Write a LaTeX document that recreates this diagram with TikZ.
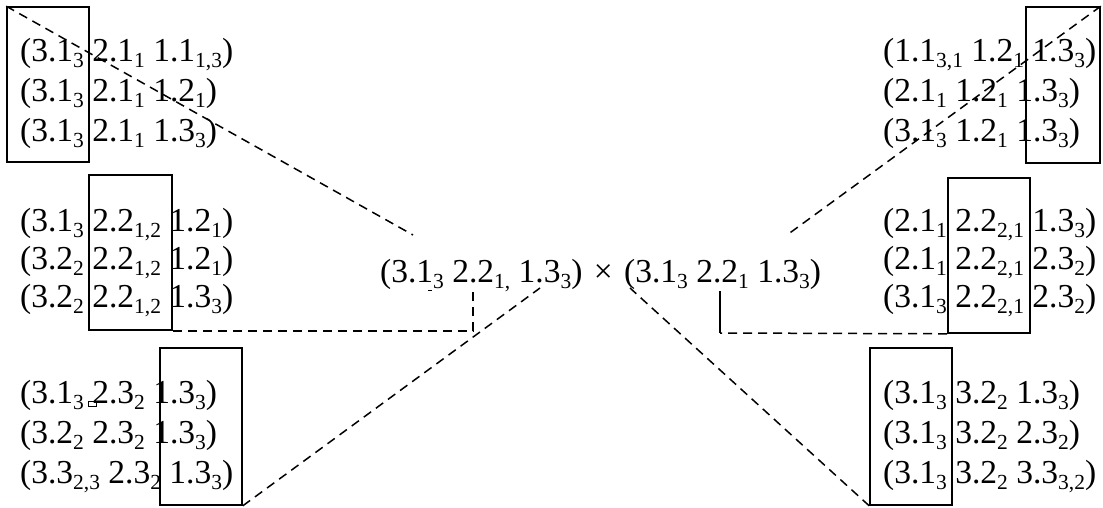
\documentclass[tikz,border=0pt]{standalone}
\usepackage{tikz}
\usepackage{fontspec}
\setmainfont{Liberation Serif}
\newcommand{\ix}[1]{\raisebox{-6pt}{\fontsize{21.5}{21.5}\selectfont #1}}
\tikzset{
    tuple/.style={anchor=base west, inner sep=0pt, font=\fontsize{33.5}{40}\selectfont},
    pickbox/.style={draw, line width=1.6pt, inner sep=0pt},
    link/.style={line width=1.5pt, dash pattern=on 9pt off 6pt},
}

\begin{document}
\begin{tikzpicture}[x=1pt, y=-1pt]
    \useasboundingbox (0,0) rectangle (1103,508);

    % left column
    \node[tuple] (tl1) at (20,62)  {(3.1\ix{3} 2.1\ix{1} 1.1\ix{1,3})};
    \node[tuple] (tl2) at (20,102) {(3.1\ix{3} 2.1\ix{1} 1.2\ix{1})};
    \node[tuple] (tl3) at (20,142) {(3.1\ix{3} 2.1\ix{1} 1.3\ix{3})};

    \node[tuple] (ml1) at (20,231) {(3.1\ix{3} 2.2\ix{1,2} 1.2\ix{1})};
    \node[tuple] (ml2) at (20,269) {(3.2\ix{2} 2.2\ix{1,2} 1.2\ix{1})};
    \node[tuple] (ml3) at (20,307) {(3.2\ix{2} 2.2\ix{1,2} 1.3\ix{3})};

    \node[tuple] (bl1) at (20,403) {(3.1\ix{3} 2.3\ix{2} 1.3\ix{3})};
    \node[tuple] (bl2) at (20,443) {(3.2\ix{2} 2.3\ix{2} 1.3\ix{3})};
    \node[tuple] (bl3) at (20,483) {(3.3\ix{2,3} 2.3\ix{2} 1.3\ix{3})};

    % right column
    \node[tuple] (tr1) at (883,62)  {(1.1\ix{3,1} 1.2\ix{1} 1.3\ix{3})};
    \node[tuple] (tr2) at (883,102) {(2.1\ix{1} 1.2\ix{1} 1.3\ix{3})};
    \node[tuple] (tr3) at (883,142) {(3.1\ix{3} 1.2\ix{1} 1.3\ix{3})};

    \node[tuple] (mr1) at (883,231) {(2.1\ix{1} 2.2\ix{2,1} 1.3\ix{3})};
    \node[tuple] (mr2) at (883,269) {(2.1\ix{1} 2.2\ix{2,1} 2.3\ix{2})};
    \node[tuple] (mr3) at (883,307) {(3.1\ix{3} 2.2\ix{2,1} 2.3\ix{2})};

    \node[tuple] (br1) at (883,403) {(3.1\ix{3} 3.2\ix{2} 1.3\ix{3})};
    \node[tuple] (br2) at (883,443) {(3.1\ix{3} 3.2\ix{2} 2.3\ix{2})};
    \node[tuple] (br3) at (883,483) {(3.1\ix{3} 3.2\ix{2} 3.3\ix{3,2})};

    % product in the middle
    \node[tuple] (lhs) at (380,282) {(3.1\ix{3} 2.2\ix{1,} 1.3\ix{3})};
    \node[tuple] (times) at ([xshift=11]lhs.base east) {×};
    \node[tuple] (rhs) at ([xshift=11]times.base east) {(3.1\ix{3} 2.2\ix{1} 1.3\ix{3})};

    % selection boxes
    \node[pickbox, minimum width=82, minimum height=155] (tlbox) at (48,84.5) {};
    \node[pickbox, minimum width=83, minimum height=155] (mlbox) at (130.5,252.5) {};
    \node[pickbox, minimum width=82, minimum height=157] (blbox) at (201,426.5) {};
    \node[pickbox, minimum width=74, minimum height=156] (trbox) at (1063,85) {};
    \node[pickbox, minimum width=82, minimum height=155] (mrbox) at (989,255.5) {};
    \node[pickbox, minimum width=82, minimum height=157] (brbox) at (911,426.5) {};

    % loose ends of the connectors
    \coordinate (tlend) at (413,235);
    \coordinate (mlend) at (473,291);
    \coordinate (blend) at (540,288);
    \coordinate (trend) at (787,235);
    \coordinate (mrbend) at (720,333);
    \coordinate (mrend) at (720,291);
    \coordinate (brend) at (630,288);

    \draw[link] (tlbox.north west) -- (tlend);
    \draw[link] (mlbox.south east) -| (mlend);
    \draw[link] (blbox.south east) -- (blend);
    \draw[link] (trbox.north east) -- (trend);
    \draw[link] (mrbox.south west) -- (mrbend);
    \draw[line width=1.5pt] (mrbend) -- (mrend);
    \draw[link] (brbox.south west) -- (brend);

    % stray marks
    \draw[line width=0.8pt] (88,401) rectangle (96,406);
    \draw[line width=1pt] (428,290) -- (432,290);
\end{tikzpicture}
\end{document}
